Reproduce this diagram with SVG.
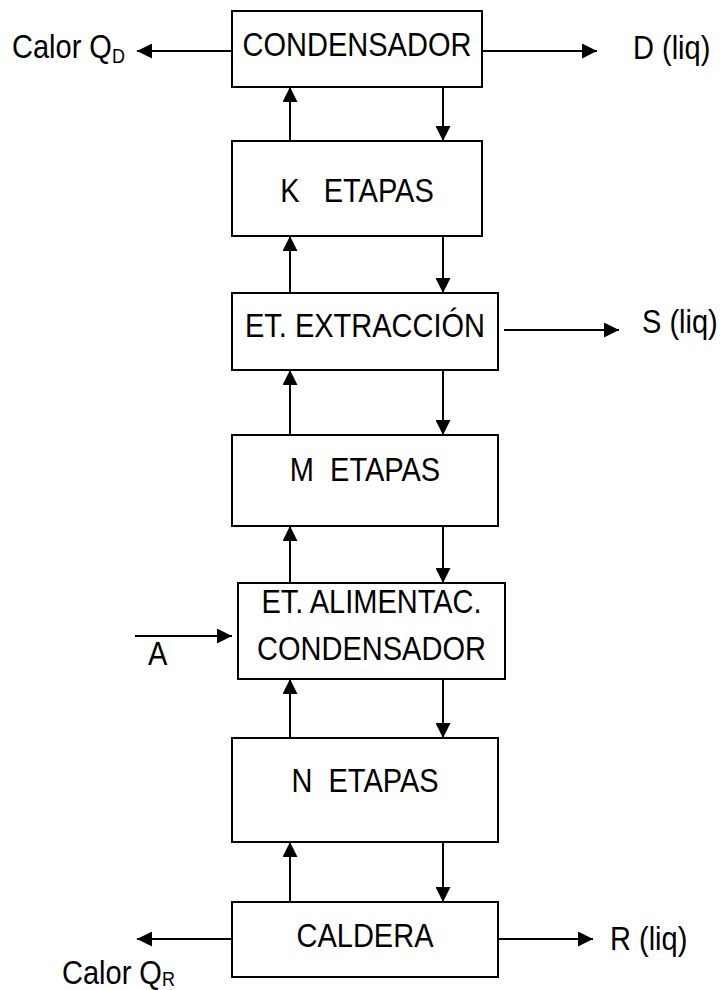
<svg xmlns="http://www.w3.org/2000/svg" width="720" height="990" viewBox="0 0 720 990">
  <style>
    .box { fill: #ffffff; stroke: #000000; stroke-width: 2; }
    .lbl { font-family: "Liberation Sans", Arial, sans-serif; font-size: 29px; fill: #000000; white-space: pre; }
    .mid { text-anchor: middle; }
    .sub { font-size: 18px; }
    .flow { stroke: #000000; stroke-width: 2; fill: none; marker-end: url(#head); }
  </style>
  <defs>
    <marker id="head" markerUnits="userSpaceOnUse" markerWidth="15" markerHeight="15" refX="15" refY="7.5" orient="auto">
      <path d="M0,0 L15,7.5 L0,15 Z" fill="#000000"/>
    </marker>
  </defs>
  <rect width="720" height="990" fill="#ffffff"/>

  <!-- column stages; lettering is drawn slightly tall (scale 1 x 1.13) -->
  <g id="condensador">
    <rect class="box" x="232" y="11" width="250" height="76"/>
    <text class="lbl mid" transform="translate(357,56) scale(1,1.13)">CONDENSADOR</text>
  </g>
  <g id="k-etapas">
    <rect class="box" x="232" y="141" width="250" height="95"/>
    <text class="lbl mid" transform="translate(357,202) scale(1,1.13)" xml:space="preserve">K   ETAPAS</text>
  </g>
  <g id="et-extraccion">
    <rect class="box" x="232" y="293" width="266" height="77"/>
    <text class="lbl mid" transform="translate(365,337) scale(1,1.13)">ET. EXTRACCIÓN</text>
  </g>
  <g id="m-etapas">
    <rect class="box" x="232" y="435" width="266" height="91"/>
    <text class="lbl mid" transform="translate(365,481) scale(1,1.13)" xml:space="preserve">M  ETAPAS</text>
  </g>
  <g id="et-alimentacion">
    <rect class="box" x="238" y="583" width="267" height="96"/>
    <text class="lbl mid" transform="translate(371.5,613) scale(1,1.13)">ET. ALIMENTAC.</text>
    <text class="lbl mid" transform="translate(371.5,660) scale(1,1.13)">CONDENSADOR</text>
  </g>
  <g id="n-etapas">
    <rect class="box" x="232" y="738" width="266" height="104"/>
    <text class="lbl mid" transform="translate(365,792) scale(1,1.13)" xml:space="preserve">N  ETAPAS</text>
  </g>
  <g id="caldera">
    <rect class="box" x="232" y="902" width="266" height="75"/>
    <text class="lbl mid" transform="translate(365,947) scale(1,1.13)">CALDERA</text>
  </g>

  <!-- stream labels -->
  <g id="labels">
    <text class="lbl" transform="translate(12,58) scale(1,1.13)">Calor Q<tspan class="sub" dy="4">D</tspan></text>
    <text class="lbl" transform="translate(633,59) scale(1,1.13)">D (liq)</text>
    <text class="lbl" transform="translate(642,333) scale(1,1.13)">S (liq)</text>
    <text class="lbl" transform="translate(148,665) scale(1,1.13)">A</text>
    <text class="lbl" transform="translate(62,984) scale(1,1.13)">Calor Q<tspan class="sub" dy="2">R</tspan></text>
    <text class="lbl" transform="translate(610,950) scale(1,1.13)">R (liq)</text>
  </g>

  <!-- connectors -->
  <g id="connectors">
    <!-- side streams -->
    <line class="flow" x1="232" y1="51" x2="137" y2="51"/>
    <line class="flow" x1="482" y1="51" x2="597" y2="51"/>
    <line class="flow" x1="504" y1="330" x2="619" y2="330"/>
    <line class="flow" x1="135" y1="636" x2="232" y2="636"/>
    <line class="flow" x1="232" y1="939" x2="137" y2="939"/>
    <line class="flow" x1="498" y1="939" x2="593" y2="939"/>
    <!-- vapour rising -->
    <line class="flow" x1="290" y1="141" x2="290" y2="87"/>
    <line class="flow" x1="290" y1="293" x2="290" y2="236"/>
    <line class="flow" x1="290" y1="435" x2="290" y2="370"/>
    <line class="flow" x1="290" y1="583" x2="290" y2="526"/>
    <line class="flow" x1="290" y1="738" x2="290" y2="679"/>
    <line class="flow" x1="290" y1="902" x2="290" y2="842"/>
    <!-- liquid descending -->
    <line class="flow" x1="443" y1="87" x2="443" y2="141"/>
    <line class="flow" x1="443" y1="236" x2="443" y2="293"/>
    <line class="flow" x1="443" y1="370" x2="443" y2="435"/>
    <line class="flow" x1="443" y1="526" x2="443" y2="583"/>
    <line class="flow" x1="443" y1="679" x2="443" y2="738"/>
    <line class="flow" x1="443" y1="842" x2="443" y2="902"/>
  </g>
</svg>
